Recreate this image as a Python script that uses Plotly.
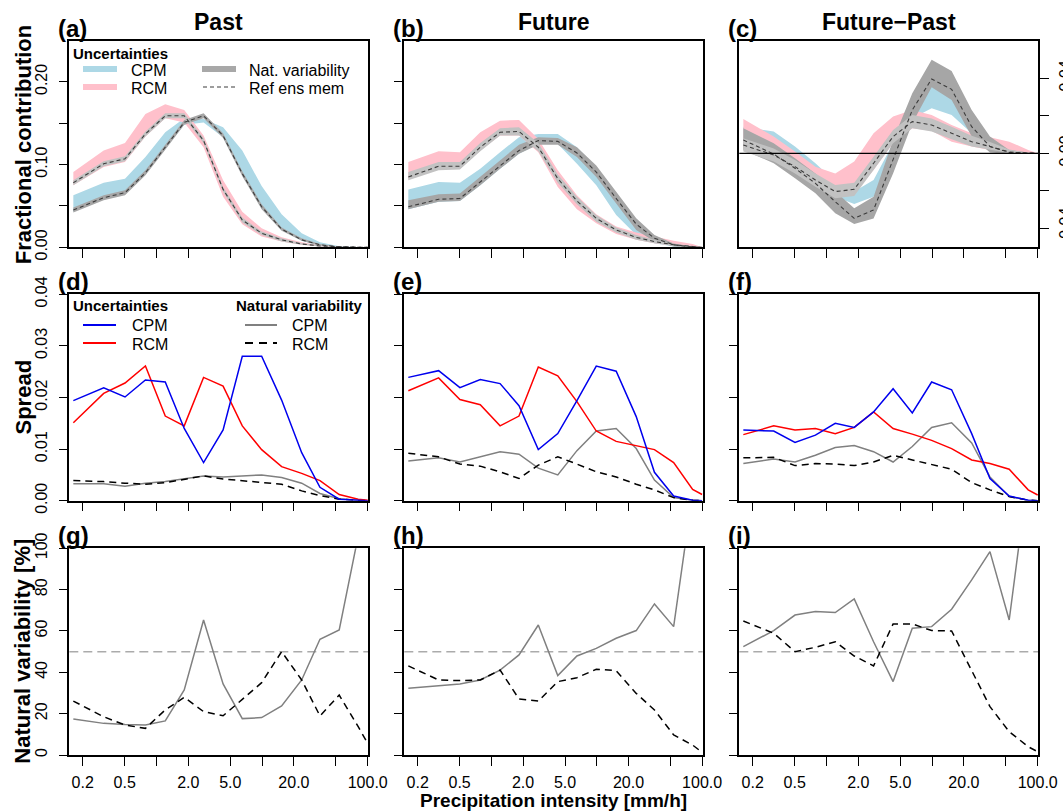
import plotly.graph_objects as go

W, H = 1063, 811
FONT = "Liberation Sans, Arial, Helvetica, sans-serif"

# ---------------- data ----------------
intensity = [0.163, 0.316, 0.503, 0.785, 1.21, 1.83, 2.79, 4.27, 6.49, 9.9,
             15.3, 23.7, 35.3, 53.7, 81.3, 100.0]

x_tick_vals = [0.2, 0.5, 1, 2, 5, 10, 20, 50, 100]
x_tick_text = ["0.2", "0.5", "", "2.0", "5.0", "", "20.0", "", "100.0"]

# (a) Past - fractional contribution
past_cpm_ref = [0.045, 0.060, 0.066, 0.090, 0.121, 0.151, 0.159, 0.135, 0.089, 0.049, 0.022, 0.009, 0.003, 0.0006, 0.0001, 0.0]
past_cpm_unc_lo = [0.043, 0.058, 0.064, 0.088, 0.119, 0.148, 0.151, 0.133, 0.087, 0.047, 0.021, 0.008, 0.002, 0.0003, 0.0, 0.0]
past_cpm_unc_hi = [0.063, 0.078, 0.083, 0.109, 0.139, 0.156, 0.155, 0.145, 0.117, 0.074, 0.040, 0.017, 0.006, 0.0012, 0.0002, 0.0]
past_cpm_nv_lo = [0.042, 0.057, 0.063, 0.087, 0.118, 0.148, 0.156, 0.132, 0.086, 0.046, 0.020, 0.008, 0.002, 0.0003, 0.0, 0.0]
past_cpm_nv_hi = [0.048, 0.063, 0.069, 0.093, 0.124, 0.154, 0.162, 0.138, 0.092, 0.052, 0.024, 0.011, 0.004, 0.0009, 0.0002, 0.0]
past_rcm_ref = [0.078, 0.101, 0.107, 0.137, 0.159, 0.159, 0.129, 0.070, 0.033, 0.017, 0.009, 0.004, 0.0016, 0.0005, 0.0001, 0.0]
past_rcm_unc_lo = [0.075, 0.097, 0.103, 0.134, 0.156, 0.151, 0.121, 0.061, 0.028, 0.013, 0.007, 0.003, 0.001, 0.0002, 0.0, 0.0]
past_rcm_unc_hi = [0.091, 0.117, 0.126, 0.161, 0.173, 0.166, 0.135, 0.081, 0.043, 0.023, 0.012, 0.006, 0.0025, 0.0008, 0.0002, 0.0]
past_rcm_nv_lo = [0.075, 0.098, 0.104, 0.134, 0.156, 0.156, 0.126, 0.067, 0.030, 0.015, 0.007, 0.003, 0.001, 0.0002, 0.0, 0.0]
past_rcm_nv_hi = [0.081, 0.104, 0.110, 0.140, 0.162, 0.162, 0.132, 0.073, 0.036, 0.019, 0.011, 0.005, 0.0024, 0.0008, 0.0002, 0.0]

# (b) Future - fractional contribution
future_cpm_ref = [0.049, 0.058, 0.059, 0.079, 0.099, 0.117, 0.129, 0.128, 0.114, 0.091, 0.059, 0.028, 0.011, 0.003, 0.0004, 0.0]
future_cpm_unc_lo = [0.046, 0.055, 0.056, 0.075, 0.095, 0.113, 0.125, 0.125, 0.101, 0.075, 0.039, 0.015, 0.005, 0.001, 0.0, 0.0]
future_cpm_unc_hi = [0.070, 0.079, 0.078, 0.095, 0.115, 0.133, 0.137, 0.137, 0.121, 0.097, 0.063, 0.030, 0.012, 0.004, 0.001, 0.0]
future_cpm_nv_lo = [0.046, 0.055, 0.056, 0.075, 0.095, 0.113, 0.124, 0.124, 0.109, 0.085, 0.053, 0.021, 0.007, 0.001, 0.0, 0.0]
future_cpm_nv_hi = [0.057, 0.064, 0.065, 0.085, 0.105, 0.124, 0.133, 0.132, 0.121, 0.099, 0.067, 0.035, 0.015, 0.0045, 0.001, 0.0]
future_rcm_ref = [0.085, 0.098, 0.098, 0.121, 0.139, 0.140, 0.121, 0.083, 0.056, 0.035, 0.021, 0.012, 0.007, 0.003, 0.001, 0.0]
future_rcm_unc_lo = [0.082, 0.094, 0.095, 0.117, 0.135, 0.135, 0.115, 0.073, 0.046, 0.029, 0.016, 0.009, 0.005, 0.002, 0.0005, 0.0]
future_rcm_unc_hi = [0.103, 0.116, 0.115, 0.139, 0.153, 0.154, 0.131, 0.093, 0.063, 0.040, 0.025, 0.018, 0.013, 0.008, 0.004, 0.0]
future_rcm_nv_lo = [0.081, 0.093, 0.094, 0.116, 0.135, 0.135, 0.116, 0.078, 0.052, 0.031, 0.018, 0.009, 0.005, 0.002, 0.0005, 0.0]
future_rcm_nv_hi = [0.091, 0.103, 0.103, 0.126, 0.144, 0.145, 0.126, 0.088, 0.061, 0.039, 0.024, 0.015, 0.009, 0.004, 0.0015, 0.0]

# (c) Future-Past - fractional contribution
diff_cpm_ref = [0.0071, -0.0004, -0.0080, -0.0160, -0.0258, -0.0347, -0.0302, -0.0036, 0.0231, 0.0396, 0.0341, 0.0142, 0.0036, 0.0005, 0.0, 0.0]
diff_cpm_unc_lo = [0.0036, -0.0036, -0.0107, -0.0178, -0.0231, -0.0270, -0.0231, -0.0053, 0.0187, 0.0240, 0.0204, 0.0107, 0.0036, 0.0004, 0.0, 0.0]
diff_cpm_unc_hi = [0.0142, 0.0116, 0.0036, -0.0053, -0.0151, -0.0204, -0.0142, 0.0053, 0.0258, 0.0356, 0.0292, 0.0142, 0.0053, 0.0009, 0.0, 0.0]
diff_cpm_nv_lo = [0.0018, -0.0053, -0.0133, -0.0213, -0.0320, -0.0377, -0.0347, -0.0107, 0.0160, 0.0352, 0.0284, 0.0089, 0.0004, -0.0004, -0.0002, 0.0]
diff_cpm_nv_hi = [0.0133, 0.0053, -0.0027, -0.0107, -0.0204, -0.0293, -0.0231, 0.0071, 0.0320, 0.0498, 0.0439, 0.0231, 0.0089, 0.0018, 0.0004, 0.0]
diff_rcm_ref = [0.0044, -0.0009, -0.0071, -0.0142, -0.0204, -0.0192, -0.0053, 0.0089, 0.0169, 0.0151, 0.0107, 0.0062, 0.0036, 0.0007, 0.0, 0.0]
diff_rcm_unc_lo = [0.0027, -0.0036, -0.0107, -0.0178, -0.0231, -0.0210, -0.0089, 0.0053, 0.0133, 0.0120, 0.0062, 0.0036, 0.0018, 0.0004, 0.0, 0.0]
diff_rcm_unc_hi = [0.0183, 0.0089, 0.0009, -0.0071, -0.0107, -0.0044, 0.0107, 0.0196, 0.0231, 0.0204, 0.0151, 0.0107, 0.0085, 0.0062, 0.0018, 0.0]
diff_rcm_nv_lo = [0.0010, -0.0044, -0.0107, -0.0178, -0.0240, -0.0228, -0.0089, 0.0053, 0.0133, 0.0116, 0.0075, 0.0036, 0.0018, 0.0002, 0.0, 0.0]
diff_rcm_nv_hi = [0.0080, 0.0026, -0.0036, -0.0107, -0.0169, -0.0157, -0.0018, 0.0124, 0.0204, 0.0186, 0.0142, 0.0094, 0.0060, 0.0020, 0.0003, 0.0]

# (d)-(f) spread
past_spread_unc_cpm = [0.0194, 0.0219, 0.0201, 0.0234, 0.0230, 0.0140, 0.0074, 0.0137, 0.0280, 0.0280, 0.0195, 0.0093, 0.0026, 0.0003, 0.0001, 0.0]
past_spread_unc_rcm = [0.0151, 0.0208, 0.0228, 0.0261, 0.0164, 0.0145, 0.0239, 0.0222, 0.0145, 0.0099, 0.0066, 0.0053, 0.0039, 0.0012, 0.0003, 0.0001]
past_spread_nv_cpm = [0.0033, 0.0033, 0.0028, 0.0034, 0.0037, 0.0043, 0.0048, 0.0046, 0.0048, 0.0050, 0.0045, 0.0034, 0.0014, 0.0004, 0.0001, 0.0]
past_spread_nv_rcm = [0.0039, 0.0037, 0.0034, 0.0032, 0.0035, 0.0041, 0.0048, 0.0042, 0.0039, 0.0035, 0.0032, 0.0019, 0.0010, 0.0003, 0.0001, 0.0]

future_spread_unc_cpm = [0.0239, 0.0252, 0.0219, 0.0235, 0.0227, 0.0184, 0.0099, 0.0130, 0.0194, 0.0261, 0.0251, 0.0163, 0.0055, 0.0009, 0.0001, 0.0]
future_spread_unc_rcm = [0.0213, 0.0238, 0.0196, 0.0186, 0.0145, 0.0164, 0.0259, 0.0242, 0.0192, 0.0135, 0.0115, 0.0106, 0.0099, 0.0074, 0.0022, 0.0012]
future_spread_nv_cpm = [0.0077, 0.0083, 0.0075, 0.0085, 0.0095, 0.0090, 0.0063, 0.0050, 0.0097, 0.0135, 0.0140, 0.0101, 0.0040, 0.0006, 0.0001, 0.0]
future_spread_nv_rcm = [0.0092, 0.0085, 0.0071, 0.0067, 0.0056, 0.0043, 0.0069, 0.0085, 0.0071, 0.0056, 0.0046, 0.0032, 0.0021, 0.0006, 0.0001, 0.0]

diff_spread_unc_cpm = [0.0137, 0.0135, 0.0113, 0.0127, 0.0150, 0.0142, 0.0172, 0.0217, 0.0170, 0.0230, 0.0215, 0.0130, 0.0043, 0.0009, 0.0001, 0.0]
diff_spread_unc_rcm = [0.0128, 0.0145, 0.0137, 0.0140, 0.0130, 0.0142, 0.0172, 0.0140, 0.0129, 0.0117, 0.0101, 0.0079, 0.0072, 0.0061, 0.0021, 0.0011]
diff_spread_nv_cpm = [0.0072, 0.0081, 0.0075, 0.0088, 0.0103, 0.0107, 0.0095, 0.0075, 0.0105, 0.0142, 0.0151, 0.0112, 0.0046, 0.0008, 0.0001, 0.0]
diff_spread_nv_rcm = [0.0083, 0.0084, 0.0068, 0.0072, 0.0071, 0.0068, 0.0075, 0.0088, 0.0079, 0.0070, 0.0061, 0.0035, 0.0021, 0.0008, 0.0001, 0.0]

# (g)-(i) natural variability share [%]
past_nv_pct_cpm = [17.4, 15.3, 14.7, 14.5, 16.5, 31.5, 65.3, 34.4, 17.6, 18.1, 23.7, 36.3, 56.0, 60.5, 106.0, 125.0]
past_nv_pct_rcm = [26.1, 18.5, 14.5, 12.9, 21.8, 27.9, 21.0, 19.0, 26.9, 35.0, 50.0, 36.3, 18.9, 29.0, 13.7, 5.6]
future_nv_pct_cpm = [32.3, 33.4, 34.4, 36.3, 41.1, 48.4, 62.9, 38.4, 47.9, 51.6, 56.5, 60.2, 73.1, 62.1, 127.0, 140.0]
future_nv_pct_rcm = [43.1, 36.3, 36.0, 36.3, 41.1, 27.1, 26.1, 35.5, 37.4, 41.5, 40.8, 29.8, 21.8, 9.7, 4.8, 1.3]
diff_nv_pct_cpm = [52.4, 60.2, 67.7, 69.4, 68.9, 75.5, 54.8, 35.5, 61.3, 62.1, 70.5, 84.7, 98.4, 65.3, 136.0, 150.0]
diff_nv_pct_rcm = [64.8, 58.9, 50.0, 52.1, 54.8, 47.9, 43.1, 63.4, 63.4, 60.2, 60.0, 41.1, 23.4, 11.3, 4.0, 1.6]

column_titles = ["Past", "Future", "Future\u2212Past"]
panel_letters = ["(a)", "(b)", "(c)", "(d)", "(e)", "(f)", "(g)", "(h)", "(i)"]
row_titles = ["Fractional contribution", "Spread", "Natural variability [%]"]

# ---------------- styling ----------------
C_BLUE_BAND = "#ADD8E6"
C_PINK_BAND = "#FFC0CB"
C_NV_DARK = "#A6A6A6"
C_NV_LIGHT = "#C2C2C2"
C_REF = "#3C3C3C"

col_px = [(69.3, 368.3), (404.3, 702.7), (739.3, 1038.3)]
row_px = [(41.3, 247.3), (294.3, 500.7), (548.3, 755.0)]


def px_x(p):
    return p / W


def px_y(p):
    return 1 - p / H


fig = go.Figure()
layout = dict(width=W, height=H, margin=dict(l=0, r=0, t=0, b=0, pad=0, autoexpand=False),
              paper_bgcolor="white", plot_bgcolor="white", showlegend=False,
              font=dict(family=FONT, color="black"))

y_ranges = [[0, 0.249], [0, 0.04], [0, 100]]
y_ticks = [([0, 0.05, 0.1, 0.15, 0.2], ["0.00", "", "0.10", "", "0.20"]),
           ([0, 0.01, 0.02, 0.03, 0.04], ["0.00", "0.01", "0.02", "0.03", "0.04"]),
           ([0, 20, 40, 60, 80, 100], ["0", "20", "40", "60", "80", "100"])]


def names(k):
    s = "" if k == 0 else str(k + 1)
    return "x" + s, "y" + s, "xaxis" + s, "yaxis" + s


for k in range(9):
    r, c = divmod(k, 3)
    xr, yr, xa, ya = names(k)
    x0, x1 = col_px[c]
    y0, y1 = row_px[r]
    layout[xa] = dict(domain=[px_x(x0), px_x(x1)], anchor=yr, type="log", automargin=False,
                      range=[-0.826, 2.0056], tickvals=x_tick_vals, ticktext=x_tick_text,
                      ticks="outside", ticklen=9, tickwidth=1.3, tickcolor="black",
                      showline=True, linecolor="black", linewidth=1.5, mirror=True,
                      showgrid=False, zeroline=False, showticklabels=(r == 2),
                      tickangle=0, ticklabelstandoff=3,
                      tickfont=dict(family=FONT, size=16, color="black"))
    yax = dict(domain=[px_y(y1), px_y(y0)], anchor=xr, range=y_ranges[r], automargin=False,
               tickvals=y_ticks[r][0], ticktext=y_ticks[r][1],
               ticks="outside", ticklen=9, tickwidth=1.3, tickcolor="black",
               showline=True, linecolor="black", linewidth=1.5, mirror=True,
               showgrid=False, zeroline=False, showticklabels=(c == 0),
               tickangle=-90, ticklabelstandoff=5,
               tickfont=dict(family=FONT, size=16, color="black"))
    if k == 2:
        yax.update(range=[-0.0501, 0.0597], side="right",
                   tickvals=[-0.04, -0.02, 0, 0.02, 0.04],
                   ticktext=["-0.04", "", "0.00", "", "0.04"], showticklabels=True,
                   ticklabelstandoff=3)
    layout[ya] = yax

fig.update_layout(**layout)


def band(k, lo, hi, color):
    xr, yr, _, _ = names(k)
    fig.add_trace(go.Scatter(x=intensity + intensity[::-1], y=hi + lo[::-1],
                             fill="toself", fillcolor=color, mode="lines",
                             line=dict(width=0, color=color), hoverinfo="skip",
                             xaxis=xr, yaxis=yr))


def line(k, y, color, width=1.5, dash="solid"):
    xr, yr, _, _ = names(k)
    fig.add_trace(go.Scatter(x=intensity, y=y, mode="lines",
                             line=dict(color=color, width=width, dash=dash),
                             hoverinfo="skip", xaxis=xr, yaxis=yr))


top = [
    (past_cpm_unc_lo, past_cpm_unc_hi, past_rcm_unc_lo, past_rcm_unc_hi,
     past_cpm_nv_lo, past_cpm_nv_hi, past_rcm_nv_lo, past_rcm_nv_hi, past_cpm_ref, past_rcm_ref),
    (future_cpm_unc_lo, future_cpm_unc_hi, future_rcm_unc_lo, future_rcm_unc_hi,
     future_cpm_nv_lo, future_cpm_nv_hi, future_rcm_nv_lo, future_rcm_nv_hi, future_cpm_ref, future_rcm_ref),
    (diff_cpm_unc_lo, diff_cpm_unc_hi, diff_rcm_unc_lo, diff_rcm_unc_hi,
     diff_cpm_nv_lo, diff_cpm_nv_hi, diff_rcm_nv_lo, diff_rcm_nv_hi, diff_cpm_ref, diff_rcm_ref),
]
for c, d in enumerate(top):
    band(c, d[0], d[1], C_BLUE_BAND)
    band(c, d[2], d[3], C_PINK_BAND)
    band(c, d[4], d[5], C_NV_DARK)
    band(c, d[6], d[7], C_NV_LIGHT)
    line(c, d[8], C_REF, 1.1, "4px,3px")
    line(c, d[9], C_REF, 1.1, "4px,3px")

mid = [
    (past_spread_unc_cpm, past_spread_unc_rcm, past_spread_nv_cpm, past_spread_nv_rcm),
    (future_spread_unc_cpm, future_spread_unc_rcm, future_spread_nv_cpm, future_spread_nv_rcm),
    (diff_spread_unc_cpm, diff_spread_unc_rcm, diff_spread_nv_cpm, diff_spread_nv_rcm),
]
for c, d in enumerate(mid):
    k = 3 + c
    line(k, d[2], "#808080", 1.5)
    line(k, d[3], "black", 1.5, "7px,5px")
    line(k, d[1], "#FF0000", 1.5)
    line(k, d[0], "#0000EE", 1.5)

bot = [(past_nv_pct_cpm, past_nv_pct_rcm), (future_nv_pct_cpm, future_nv_pct_rcm),
       (diff_nv_pct_cpm, diff_nv_pct_rcm)]
shapes = []
for c, d in enumerate(bot):
    k = 6 + c
    xr, yr, _, _ = names(k)
    shapes.append(dict(type="line", xref=xr + " domain", yref=yr, x0=0, x1=1, y0=50, y1=50,
                       line=dict(color="#ABABAB", width=1.5, dash="9px,5px"), layer="below"))
    line(k, d[0], "#808080", 1.5)
    line(k, d[1], "black", 1.5, "7px,5px")

# zero line in (c)
shapes.append(dict(type="line", xref="x3 domain", yref="y3", x0=0, x1=1, y0=0, y1=0,
                   line=dict(color="black", width=1.3)))

annotations = []


def text(x, y, s, size=16, bold=False, xanchor="left", angle=0):
    annotations.append(dict(x=px_x(x), y=px_y(y), xref="paper", yref="paper",
                            text=("<b>%s</b>" % s) if bold else s, showarrow=False,
                            xanchor=xanchor, yanchor="middle", textangle=angle,
                            font=dict(family=FONT, size=size, color="black")))


def seg(x0, x1, y, color, width, dash="solid"):
    shapes.append(dict(type="line", xref="paper", yref="paper", x0=px_x(x0), x1=px_x(x1),
                       y0=px_y(y), y1=px_y(y), line=dict(color=color, width=width, dash=dash)))


# column titles and panel letters
for c in range(3):
    cx = (col_px[c][0] + col_px[c][1]) / 2
    text(cx, 22, column_titles[c], size=23, bold=True, xanchor="center")
for k in range(9):
    r, c = divmod(k, 3)
    text(col_px[c][0] - 13, row_px[r][0] - 13, panel_letters[k], size=24, bold=True)

# row titles
for r in range(3):
    text(23, (row_px[r][0] + row_px[r][1]) / 2, row_titles[r], size=22, bold=True,
         xanchor="center", angle=-90)
text(553, 800, "Precipitation intensity [mm/h]", size=19, bold=True, xanchor="center")

# legend (a)
text(71, 53, "Uncertainties", size=15, bold=True)
seg(83, 117, 69, C_BLUE_BAND, 6)
text(129, 70, "CPM", size=16)
seg(83, 117, 87, C_PINK_BAND, 6)
text(129, 88, "RCM", size=16)
seg(202, 236, 69, "#A8A8A8", 6)
text(247, 70, "Nat. variability", size=16)
seg(203, 235, 87, C_REF, 1.1, "4px,3px")
text(247, 88, "Ref ens mem", size=16)

# legend (d)
text(71, 305, "Uncertainties", size=15, bold=True)
seg(83, 116, 325, "#0000EE", 2)
text(130, 326, "CPM", size=16)
seg(83, 116, 343, "#FF0000", 2)
text(130, 344, "RCM", size=16)
annotations.append(dict(x=px_x(365), y=px_y(305), xref="paper", yref="paper",
                        text="<b>Natural variability</b>", showarrow=False,
                        xanchor="right", yanchor="middle",
                        font=dict(family=FONT, size=15, color="black")))
seg(245, 277, 325, "#808080", 2)
text(290, 326, "CPM", size=16)
seg(245, 277, 343, "black", 2, "8px,6px")
text(290, 344, "RCM", size=16)

fig.update_layout(shapes=shapes, annotations=annotations)
fig.write_html("out.html")
